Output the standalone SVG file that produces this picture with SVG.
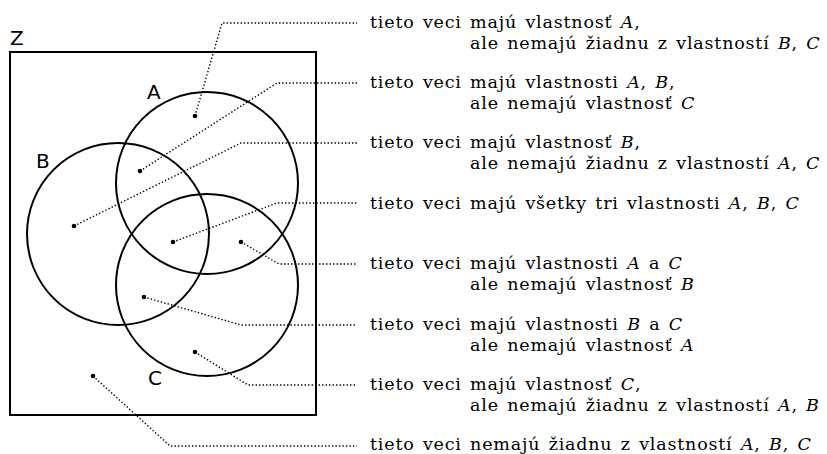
<svg xmlns="http://www.w3.org/2000/svg" width="827" height="454" viewBox="0 0 827 454">
<style>
.shape{fill:none;stroke:#000;stroke-width:2}
.lbl{font-family:"DejaVu Sans",sans-serif;font-size:20px;fill:#000}
.t{font-family:"DejaVu Serif",serif;font-size:17.5px;letter-spacing:0.8px;word-spacing:2px;fill:#000}
.m{font-style:italic}
.c{fill:none;stroke:#000;stroke-width:1.4;stroke-dasharray:1.4 2.1}
.d{fill:#000}
</style>
<rect width="827" height="454" fill="#fff"/>
<g id="Z"><rect class="shape" x="10" y="52" width="306" height="363"/><text class="lbl" x="10" y="45">Z</text></g>
<g id="A"><circle class="shape" cx="207" cy="183" r="91"/><text class="lbl" x="147" y="99">A</text></g>
<g id="B"><circle class="shape" cx="118" cy="234" r="91"/><text class="lbl" x="36" y="168">B</text></g>
<g id="C"><circle class="shape" cx="207" cy="285" r="91"/><text class="lbl" x="148" y="385">C</text></g>
<g id="connectors">
<polyline class="c" points="195,116 222,23 357,23"/>
<polyline class="c" points="140,171 277,83 357,83"/>
<polyline class="c" points="74,226 241,143 357,143"/>
<polyline class="c" points="173,242 277,203 357,203"/>
<polyline class="c" points="241,242 279,264 357,264"/>
<polyline class="c" points="144,297 241,325 357,325"/>
<polyline class="c" points="195,352 248,385 357,385"/>
<polyline class="c" points="93,376 170,446 357,446"/>
</g>
<g id="dots">
<circle class="d" cx="195" cy="116" r="2.3"/>
<circle class="d" cx="140" cy="171" r="2.3"/>
<circle class="d" cx="74" cy="226" r="2.3"/>
<circle class="d" cx="173" cy="242" r="2.3"/>
<circle class="d" cx="241" cy="242" r="2.3"/>
<circle class="d" cx="144" cy="297" r="2.3"/>
<circle class="d" cx="195" cy="352" r="2.3"/>
<circle class="d" cx="93" cy="376" r="2.3"/>
</g>
<g id="label1"><text class="t" x="370" y="28">tieto veci majú vlastnosť <tspan class="m">A</tspan>,</text><text class="t" x="470" y="48.5">ale nemajú žiadnu z vlastností <tspan class="m">B</tspan>, <tspan class="m">C</tspan></text></g>
<g id="label2"><text class="t" x="370" y="88">tieto veci majú vlastnosti <tspan class="m">A</tspan>, <tspan class="m">B</tspan>,</text><text class="t" x="470" y="108.5">ale nemajú vlastnosť <tspan class="m">C</tspan></text></g>
<g id="label3"><text class="t" x="370" y="148">tieto veci majú vlastnosť <tspan class="m">B</tspan>,</text><text class="t" x="470" y="168.5">ale nemajú žiadnu z vlastností <tspan class="m">A</tspan>, <tspan class="m">C</tspan></text></g>
<g id="label4"><text class="t" x="370" y="209">tieto veci majú všetky tri vlastnosti <tspan class="m">A</tspan>, <tspan class="m">B</tspan>, <tspan class="m">C</tspan></text></g>
<g id="label5"><text class="t" x="370" y="269">tieto veci majú vlastnosti <tspan class="m">A</tspan> a <tspan class="m">C</tspan></text><text class="t" x="470" y="289.5">ale nemajú vlastnosť <tspan class="m">B</tspan></text></g>
<g id="label6"><text class="t" x="370" y="330">tieto veci majú vlastnosti <tspan class="m">B</tspan> a <tspan class="m">C</tspan></text><text class="t" x="470" y="350.5">ale nemajú vlastnosť <tspan class="m">A</tspan></text></g>
<g id="label7"><text class="t" x="370" y="390">tieto veci majú vlastnosť <tspan class="m">C</tspan>,</text><text class="t" x="470" y="410.5">ale nemajú žiadnu z vlastností <tspan class="m">A</tspan>, <tspan class="m">B</tspan></text></g>
<g id="label8"><text class="t" x="370" y="449.5">tieto veci nemajú žiadnu z vlastností <tspan class="m">A</tspan>, <tspan class="m">B</tspan>, <tspan class="m">C</tspan></text></g>
</svg>
